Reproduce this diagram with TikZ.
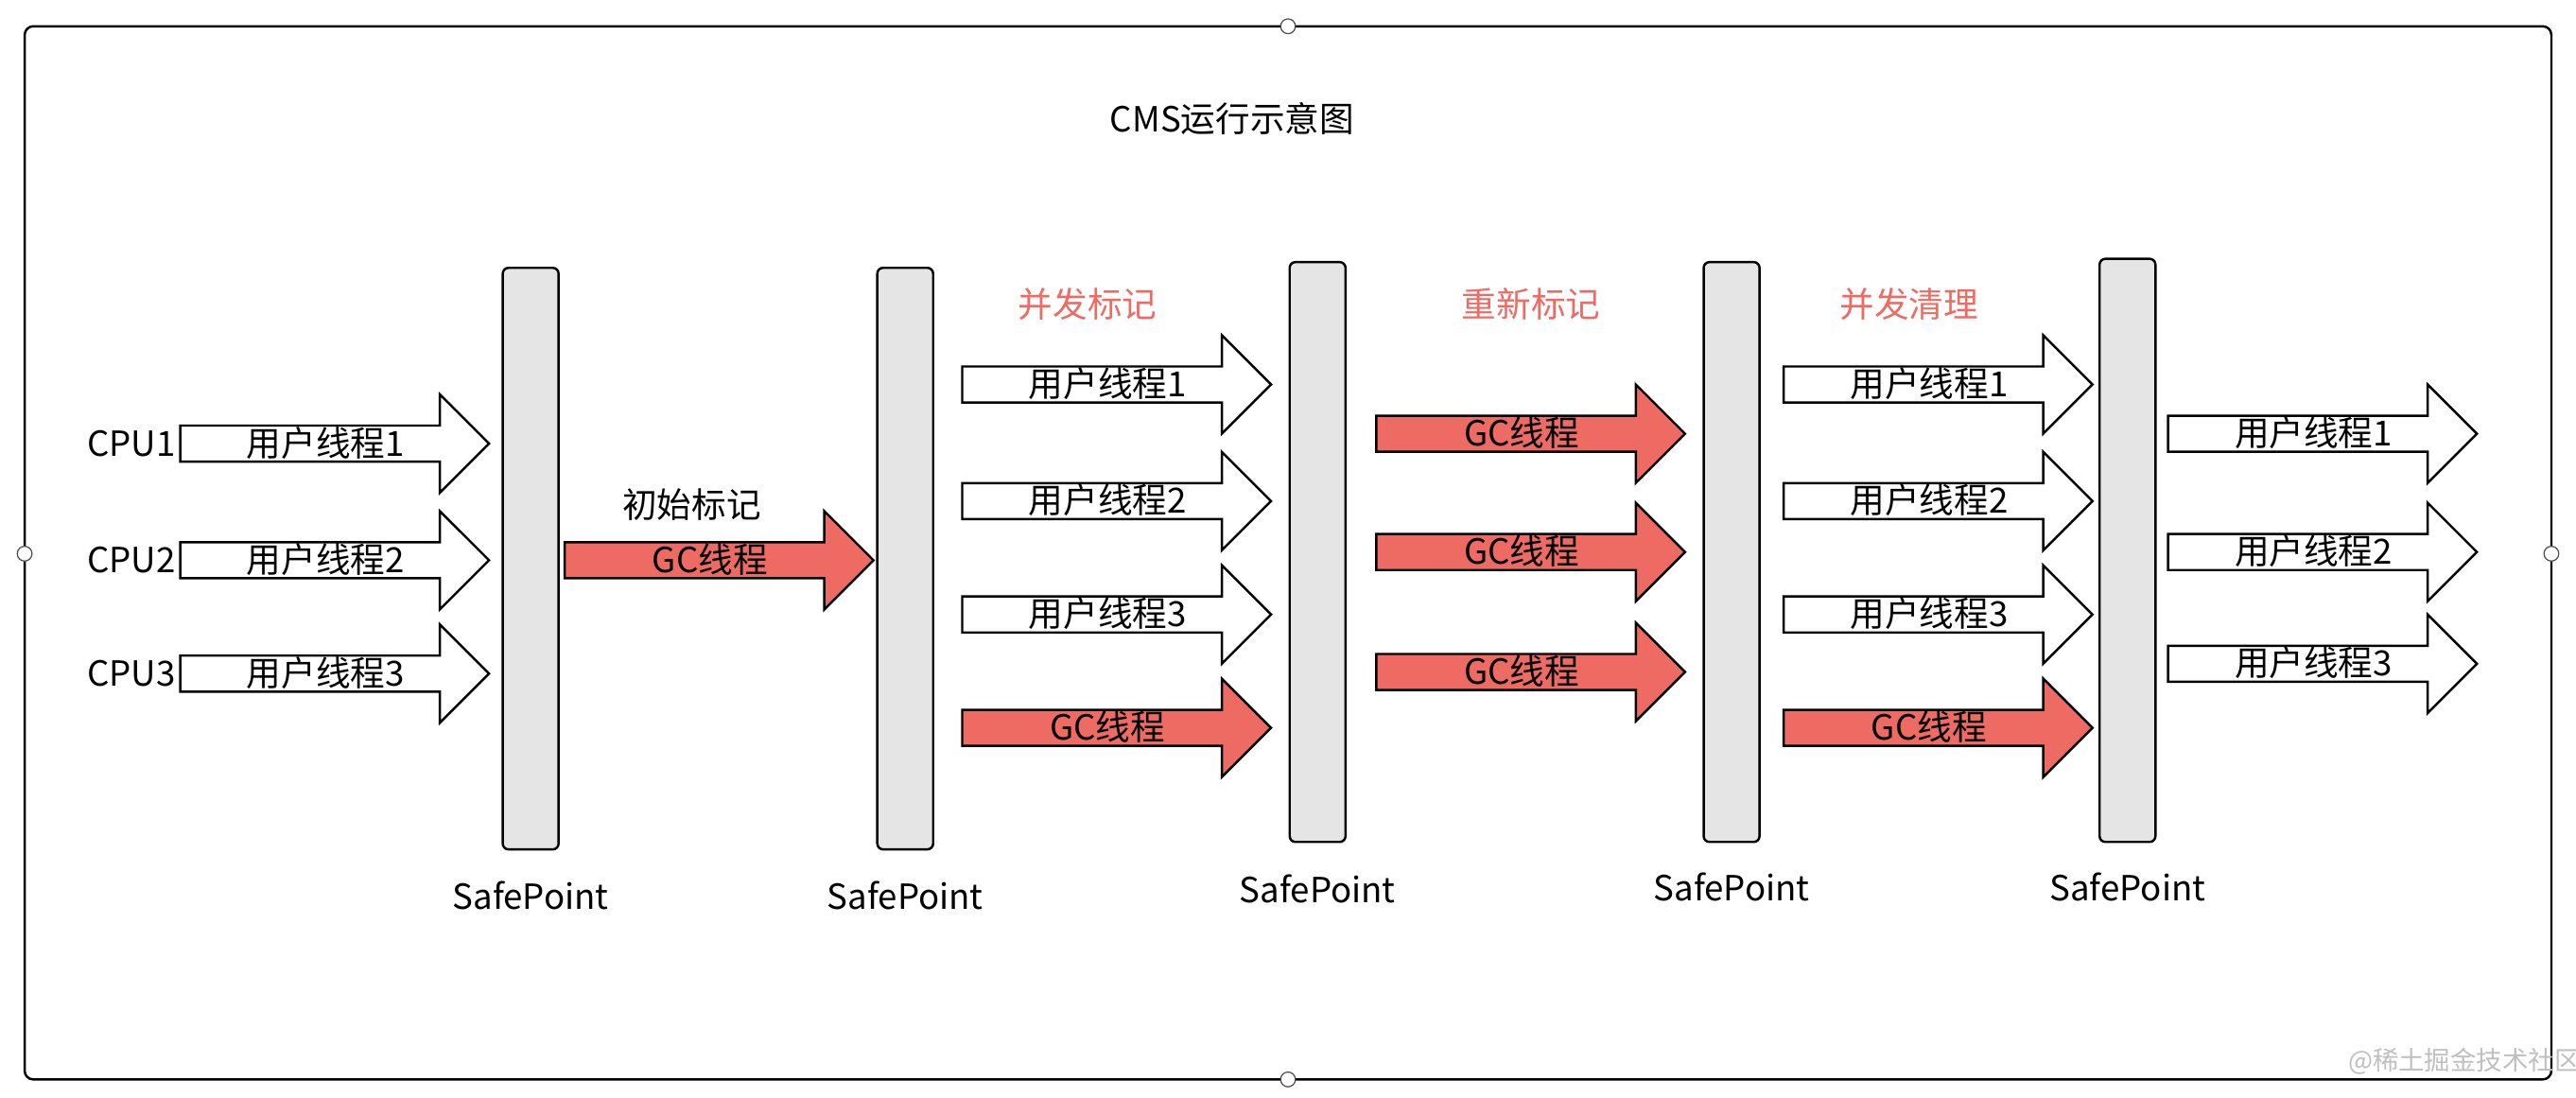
\documentclass[tikz,border=0pt]{standalone}
\usepackage{fontspec}
\setmainfont{Noto Sans CJK SC}
\usetikzlibrary{shapes.arrows}
\definecolor{gcred}{HTML}{EE6B64}
\begin{document}
\begin{tikzpicture}[x=0.02cm,y=-0.02cm,font=\fontsize{12}{14}\selectfont,
    thread/.style={single arrow,draw=black,thick,fill=white,inner xsep=0pt,inner ysep=0.055cm,
      text height=0.3cm,text depth=-0.05cm,single arrow head extend=0.38cm,
      single arrow head indent=0pt,minimum height=3.76cm,anchor=tail},
    gc/.style={thread,fill=gcred},
    bar/.style={draw=black,thick,fill=gray!20,rounded corners=2pt,minimum width=0.68cm},
    dot/.style={circle,draw=black!70,fill=white,inner sep=0pt,minimum size=0.18cm},
    phase/.style={text=gcred}]
    \useasboundingbox (0,0) rectangle (1568,668);
    % Frame
    \draw[thick,rounded corners=3pt] (15,16) rectangle (1553,657);
    \node[dot] (t) at (784,16) {};
    \node[dot] (b) at (784,657) {};
    \node[dot] (l) at (15,337) {};
    \node[dot] (r) at (1553,337) {};
    \node (title) at (750,72) {CMS运行示意图};

    % SafePoints
    \node[bar,minimum height=7.08cm] (sp1) at (323,340) {};
    \node[bar,minimum height=7.08cm] (sp2) at (551,340) {};
    \node[bar,minimum height=7.06cm] (sp3) at (802,336) {};
    \node[bar,minimum height=7.06cm] (sp4) at (1054,336) {};
    \node[bar,minimum height=7.1cm] (sp5) at (1295,335) {};
    \node (l1) at (323,545) {SafePoint};
    \node (l2) at (551,545) {SafePoint};
    \node (l3) at (802,541) {SafePoint};
    \node (l4) at (1054,540) {SafePoint};
    \node (l5) at (1295,540) {SafePoint};

    % Before initial mark
    \node (cpu1) at (80,270) {CPU1};
    \node (cpu2) at (80,341) {CPU2};
    \node (cpu3) at (80,410) {CPU3};
    \node[thread] (a1) at (109,270) {用户线程1};
    \node[thread] (a2) at (109,341) {用户线程2};
    \node[thread] (a3) at (109,410) {用户线程3};

    % Initial mark
    \node (p1) at (421,307) {初始标记};
    \node[gc] (g1) at (343,341) {GC线程};

    % Concurrent mark
    \node[phase] (p2) at (662,185) {并发标记};
    \node[thread] (b1) at (585,234) {用户线程1};
    \node[thread] (b2) at (585,305) {用户线程2};
    \node[thread] (b3) at (585,374) {用户线程3};
    \node[gc] (b4) at (585,443) {GC线程};

    % Remark
    \node[phase] (p3) at (932,185) {重新标记};
    \node[gc] (c1) at (837,264) {GC线程};
    \node[gc] (c2) at (837,336) {GC线程};
    \node[gc] (c3) at (837,409) {GC线程};

    % Concurrent sweep
    \node[phase] (p4) at (1162,185) {并发清理};
    \node[thread] (d1) at (1085,234) {用户线程1};
    \node[thread] (d2) at (1085,305) {用户线程2};
    \node[thread] (d3) at (1085,374) {用户线程3};
    \node[gc] (d4) at (1085,443) {GC线程};

    % After
    \node[thread] (e1) at (1319,264) {用户线程1};
    \node[thread] (e2) at (1319,336) {用户线程2};
    \node[thread] (e3) at (1319,404) {用户线程3};

    \node[text=gray!50,font=\fontsize{9}{10}\selectfont] (wm) at (1500,646) {@稀土掘金技术社区};
\end{tikzpicture}
\end{document}
